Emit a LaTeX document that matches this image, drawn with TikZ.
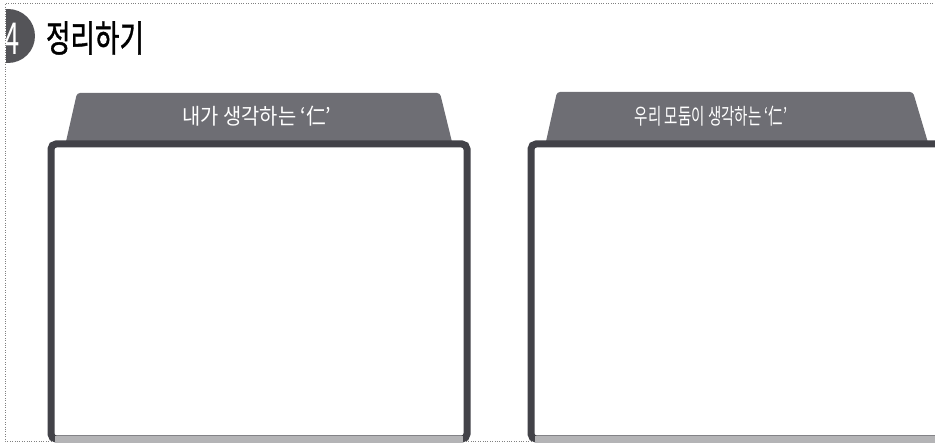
\documentclass[tikz,border=0pt]{standalone}
\usepackage{fontspec}
\setmainfont{Noto Sans CJK KR}
\newfontfamily\titrefont[FakeBold=1.2]{Noto Sans CJK KR}
\definecolor{ongletgris}{RGB}{110,110,116}
\definecolor{cadregris}{RGB}{66,66,72}
\definecolor{pastillegris}{RGB}{84,84,88}
\tikzset{
  onglet/.style={fill=ongletgris, rounded corners=3pt},
  cadre/.style={draw=cadregris, line width=7pt, rounded corners=5pt, fill=white},
  texteonglet/.style={text=white, font=\fontsize{22}{22}\selectfont, inner sep=0pt}
}
\begin{document}
\begin{tikzpicture}[x=1pt,y=-1pt]
  \useasboundingbox (0,0) rectangle (935,443);
  \clip (0,0) rectangle (935,443);
  % Cadre pointillé
  \draw [dotted, gray] (935,3) -- (5,3) -- (5,441) -- (935,441);
  % Titre
  \begin{scope}
    \clip (6,0) rectangle (45,70);
    \fill [pastillegris] (8,36) circle (27);
    \node (num) at (12,39) [text=white, xscale=0.62, font=\fontsize{44}{44}\selectfont, inner sep=0pt] {4};
  \end{scope}
  \node (titre) at (95,38) [xscale=0.72, font=\titrefont\fontsize{37}{37}\selectfont, inner sep=0pt] {정리하기};
  % Onglets
  \fill [onglet] (65,146) -- (77,93) -- (440,93) -- (453,146) -- cycle;
  \fill [onglet] (545,146) -- (557,92) -- (913,92) -- (929,146) -- cycle;
  % Cadres
  \draw [cadre] (51,144) rectangle (467,439);
  \draw [cadre] (531,144) rectangle (950,439);
  \fill [cadregris!40] (55,436) rectangle (463,443);
  \fill [cadregris!40] (535,436) rectangle (935,443);
  % Textes des onglets
  \node (moi) at (257,116) [texteonglet, xscale=0.9] {내가 생각하는 ‘仁’};
  \node (nous) at (711,116) [texteonglet, xscale=0.66] {우리 모둠이 생각하는 ‘仁’};
\end{tikzpicture}
\end{document}
